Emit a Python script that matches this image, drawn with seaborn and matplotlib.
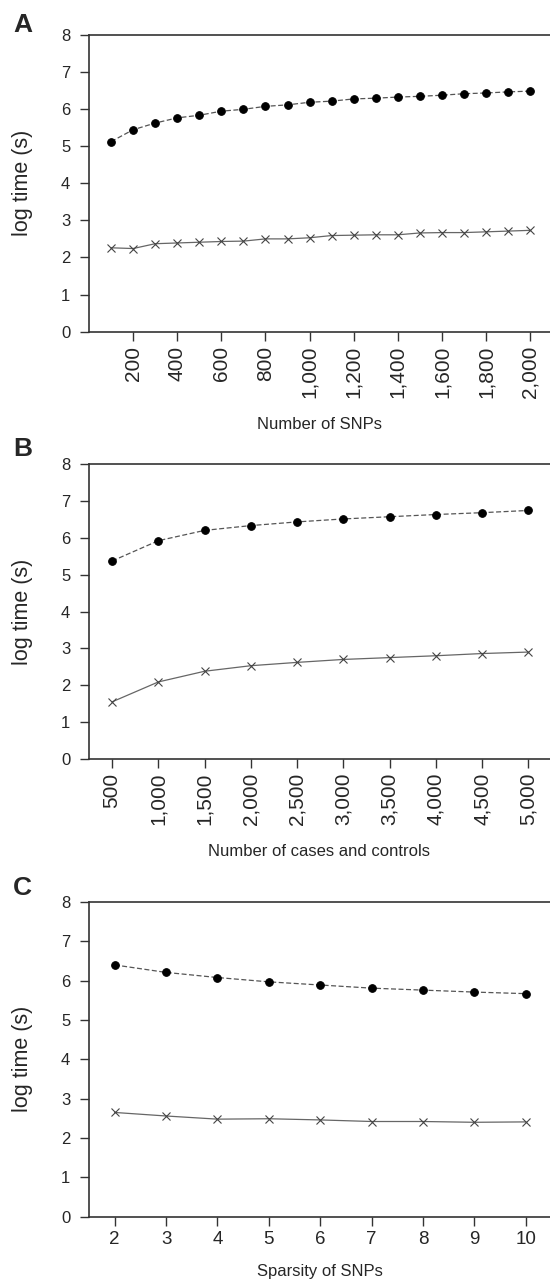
import matplotlib
matplotlib.use("Agg")
import matplotlib.pyplot as plt
import seaborn as sns
from matplotlib.ticker import FuncFormatter

# Panel A: runtime vs number of SNPs
snps = [100, 200, 300, 400, 500, 600, 700, 800, 900, 1000,
        1100, 1200, 1300, 1400, 1500, 1600, 1700, 1800, 1900, 2000]
a_dots = [5.12, 5.44, 5.62, 5.76, 5.83, 5.94, 5.99, 6.07, 6.11, 6.18,
          6.21, 6.27, 6.29, 6.32, 6.34, 6.37, 6.41, 6.43, 6.46, 6.48]
a_cross = [2.26, 2.24, 2.37, 2.39, 2.41, 2.43, 2.44, 2.50, 2.50, 2.53,
           2.59, 2.60, 2.61, 2.61, 2.66, 2.67, 2.67, 2.69, 2.71, 2.73]
a_ticks = [200, 400, 600, 800, 1000, 1200, 1400, 1600, 1800, 2000]

# Panel B: runtime vs number of cases and controls
cases = [500, 1000, 1500, 2000, 2500, 3000, 3500, 4000, 4500, 5000]
b_dots = [5.37, 5.92, 6.20, 6.33, 6.43, 6.51, 6.57, 6.63, 6.68, 6.74]
b_cross = [1.55, 2.09, 2.38, 2.53, 2.62, 2.70, 2.75, 2.80, 2.86, 2.90]

# Panel C: runtime vs sparsity
sparsity = [2, 3, 4, 5, 6, 7, 8, 9, 10]
c_dots = [6.40, 6.21, 6.08, 5.97, 5.89, 5.81, 5.76, 5.71, 5.67]
c_cross = [2.65, 2.56, 2.48, 2.49, 2.46, 2.42, 2.42, 2.40, 2.41]

sns.set_style("ticks")
plt.rcParams["font.family"] = ["Liberation Sans", "DejaVu Sans"]

W, H = 550, 1284
fig = plt.figure(figsize=(W / 100, H / 100), dpi=100)


def make_axes(top_px, bottom_px):
    left = 89 / W
    return fig.add_axes([left, 1 - bottom_px / H, 1 - left, (bottom_px - top_px) / H])


def draw(ax, x, dots, cross):
    sns.lineplot(x=x, y=dots, ax=ax, color="#555555", linestyle=(0, (4, 2)),
                 linewidth=0.9, marker="o", markersize=5.5,
                 markerfacecolor="black", markeredgecolor="black")
    sns.lineplot(x=x, y=cross, ax=ax, color="#666666", linestyle="-",
                 linewidth=0.9, marker="x", markersize=6,
                 markeredgewidth=0.8, markeredgecolor="#444444")


def style(ax, xlabel, xsize, rot, labelpad):
    ax.set_ylim(0, 8)
    ax.set_yticks(range(0, 9))
    for s in ["top", "left", "bottom"]:
        ax.spines[s].set_color("#333333")
        ax.spines[s].set_linewidth(1.2)
    ax.spines["right"].set_visible(False)
    ax.tick_params(axis="both", direction="out", length=6.5, width=1,
                   color="#333333")
    ax.tick_params(axis="y", labelsize=12, pad=7)
    ax.tick_params(axis="x", labelsize=xsize, labelrotation=rot)
    ax.set_ylabel("log time (s)", fontsize=15.5)
    ax.yaxis.set_label_coords(-0.121, 0.5)
    ax.set_xlabel(xlabel, fontsize=12, labelpad=labelpad)


comma = FuncFormatter(lambda v, p: f"{int(v):,}")

ax1 = make_axes(34.7, 331.7)
draw(ax1, snps, a_dots, a_cross)
ax1.set_xlim(0, 2090)
ax1.set_xticks(a_ticks)
ax1.xaxis.set_major_formatter(comma)
style(ax1, "Number of SNPs", 15, 90, 13.5)

ax2 = make_axes(464, 759)
draw(ax2, cases, b_dots, b_cross)
ax2.set_xlim(250, 5234)
ax2.set_xticks(cases)
ax2.xaxis.set_major_formatter(comma)
style(ax2, "Number of cases and controls", 15, 90, 13.5)

ax3 = make_axes(902, 1216.7)
draw(ax3, sparsity, c_dots, c_cross)
ax3.set_xlim(1.5, 10.47)
ax3.set_xticks(sparsity)
style(ax3, "Sparsity of SNPs", 13.5, 0, 12)

for label, top_px in [("A", 13), ("B", 437), ("C", 876)]:
    fig.text(13 / W, 1 - top_px / H, label, fontsize=19, fontweight="bold",
             ha="left", va="top")

fig.savefig("out.png", dpi=100)
